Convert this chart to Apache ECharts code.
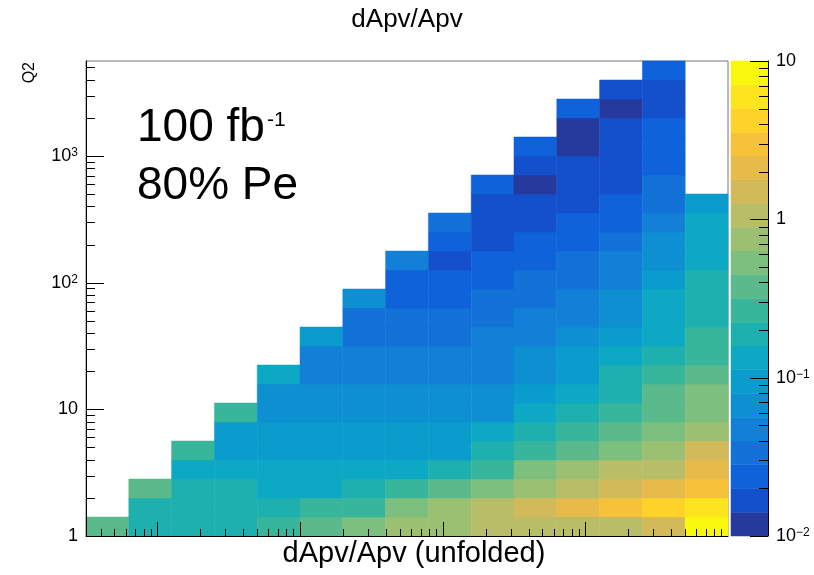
<!DOCTYPE html>
<html>
<head>
<meta charset="utf-8">
<title>dApv/Apv</title>
<script src="https://cdn.jsdelivr.net/npm/echarts@6.0.0/dist/echarts.min.js"></script>
<style>
  html, body { margin: 0; padding: 0; background: #fff; }
  #chart { width: 814px; height: 575px; }
</style>
</head>
<body>
<div id="chart"></div>
<script>
const FONT = '"Liberation Sans", Arial, Helvetica, sans-serif';

// bin edges (both axes log spaced)
const xEdges = [3.162e-5, 6.310e-5, 1.259e-4, 2.512e-4, 5.012e-4, 1.0e-3, 1.995e-3, 3.981e-3,
  7.943e-3, 1.585e-2, 3.162e-2, 6.310e-2, 0.1259, 0.2512, 0.5012, 1.0];
const q2Edges = [1, 1.413, 1.995, 2.818, 3.981, 5.623, 7.943, 11.22, 15.85, 22.39, 31.62, 44.67,
  63.10, 89.13, 125.9, 177.8, 251.2, 354.8, 501.2, 707.9, 1000, 1413, 1995, 2818, 3981, 5623];

// dApv/Apv in each x bin, from the lowest Q2 bin upward
const dApv = [
  [0.38],
  [0.19, 0.19, 0.38],
  [0.19, 0.19, 0.19, 0.13, 0.27],
  [0.19, 0.19, 0.19, 0.13, 0.094, 0.094, 0.27],
  [0.27, 0.19, 0.13, 0.13, 0.094, 0.094, 0.067, 0.067, 0.13],
  [0.38, 0.27, 0.13, 0.13, 0.094, 0.094, 0.067, 0.067, 0.047, 0.047, 0.094],
  [0.53, 0.27, 0.19, 0.13, 0.094, 0.094, 0.067, 0.067, 0.047, 0.047, 0.034, 0.034, 0.067],
  [0.75, 0.53, 0.27, 0.13, 0.094, 0.094, 0.067, 0.067, 0.047, 0.047, 0.034, 0.034, 0.024, 0.024, 0.047],
  [0.75, 0.75, 0.38, 0.19, 0.094, 0.094, 0.067, 0.067, 0.047, 0.047, 0.034, 0.034, 0.024, 0.024, 0.017, 0.024, 0.034],
  [1.06, 1.06, 0.53, 0.27, 0.19, 0.13, 0.067, 0.067, 0.047, 0.047, 0.047, 0.034, 0.034, 0.024, 0.024, 0.017, 0.017, 0.017, 0.024],
  [1.06, 1.5, 0.75, 0.53, 0.27, 0.19, 0.13, 0.094, 0.067, 0.067, 0.047, 0.047, 0.034, 0.034, 0.024, 0.024, 0.017, 0.017, 0.012, 0.017, 0.024],
  [1.06, 2.1, 1.06, 0.75, 0.38, 0.27, 0.19, 0.13, 0.094, 0.094, 0.067, 0.047, 0.047, 0.034, 0.034, 0.024, 0.024, 0.017, 0.017, 0.017, 0.012, 0.012, 0.024],
  [1.06, 3.0, 1.5, 1.06, 0.53, 0.38, 0.27, 0.19, 0.19, 0.13, 0.094, 0.067, 0.067, 0.047, 0.047, 0.034, 0.024, 0.024, 0.017, 0.017, 0.017, 0.017, 0.012, 0.017],
  [1.5, 4.2, 2.1, 1.06, 0.75, 0.53, 0.38, 0.38, 0.27, 0.19, 0.13, 0.13, 0.13, 0.094, 0.067, 0.067, 0.047, 0.034, 0.034, 0.024, 0.024, 0.024, 0.017, 0.017, 0.024],
  [8.4, 6.0, 3.0, 2.1, 1.5, 0.75, 0.53, 0.53, 0.38, 0.27, 0.27, 0.19, 0.19, 0.19, 0.13, 0.13, 0.13, 0.094]
];

// colour contours (20 levels, log spaced from 1e-2 to 10)
const levelEdges = [0.01, 0.01413, 0.01995, 0.02818, 0.03981, 0.05623, 0.07943, 0.1122, 0.1585, 0.2239,
  0.3162, 0.4467, 0.631, 0.8913, 1.259, 1.778, 2.512, 3.548, 5.012, 7.079, 10];
const levelColors = ['#263A9E', '#1450CC', '#0F62DA', '#1272D8', '#1280D6', '#0E8FD2', '#0A9CCC',
  '#0CA8C4', '#1EB0AE', '#38B69C', '#5ABA8C', '#7CBF7E', '#9CC072', '#B8BD68', '#D2BA5A',
  '#E6BB4A', '#F5C23A', '#FFD22A', '#FCE51E', '#FAF70E'];

// ticks
const xMajorTicks = [1e-4, 1e-3, 1e-2, 1e-1];
const xDecades = [1e-5, 1e-4, 1e-3, 1e-2, 1e-1];
const q2MajorTicks = [1, 10, 100, 1000];
const q2Decades = [1, 10, 100, 1000];
const zMajorTicks = [0.01, 0.1, 1, 10];
const zDecades = [0.01, 0.1, 1];
const minorSteps = [2, 3, 4, 5, 6, 7, 8, 9];

const xMin = xEdges[0], xMax = xEdges[xEdges.length - 1];
const yMin = q2Edges[0], yMax = q2Edges[q2Edges.length - 1];

const cells = [];
dApv.forEach((col, i) => {
  col.forEach((v, j) => {
    cells.push([xEdges[i], xEdges[i + 1], q2Edges[j], q2Edges[j + 1], v]);
  });
});

const bands = levelColors.map((c, k) =>
  [0, 1, levelEdges[k], levelEdges[k + 1], Math.sqrt(levelEdges[k] * levelEdges[k + 1])]);

function minorTicks(decades, lo, hi) {
  const out = [];
  decades.forEach(d => minorSteps.forEach(s => {
    const v = s * d;
    if (v > lo && v < hi) out.push(v);
  }));
  return out;
}

// [x, y, length, direction]  direction: 0 up, 1 right, 2 left
const frameTicks = [].concat(
  xMajorTicks.map(v => [v, yMin, 14, 0]),
  minorTicks(xDecades, xMin, xMax).map(v => [v, yMin, 7, 0]),
  q2MajorTicks.map(v => [xMin, v, 18, 1]),
  minorTicks(q2Decades, yMin, yMax).map(v => [xMin, v, 9, 1])
);
const paletteTicks = [].concat(
  zMajorTicks.map(v => [1, v, 18, 2]),
  minorTicks(zDecades, 0.01, 10).map(v => [1, v, 9, 2])
);

function renderBox(params, api) {
  const a = api.coord([api.value(0), api.value(2)]);
  const b = api.coord([api.value(1), api.value(3)]);
  const color = api.visual('color');
  return {
    type: 'rect',
    shape: { x: a[0], y: b[1], width: b[0] - a[0], height: a[1] - b[1] },
    style: { fill: color, stroke: color, lineWidth: 0.5 }
  };
}

function renderTick(params, api) {
  const p = api.coord([api.value(0), api.value(1)]);
  const len = api.value(2);
  const dir = api.value(3);
  let x1 = p[0], y1 = p[1];
  if (dir === 0) x1 = Math.round(x1) + 0.5; else y1 = Math.round(y1) + 0.5;
  let x2 = x1, y2 = y1;
  if (dir === 0) y2 -= len; else if (dir === 1) x2 += len; else x2 -= len;
  return {
    type: 'line',
    shape: { x1: x1, y1: y1, x2: x2, y2: y2 },
    style: { stroke: '#000', lineWidth: 1 }
  };
}

function powLabel(v) {
  const e = Math.log10(v);
  const n = Math.round(e);
  if (Math.abs(e - n) > 1e-6) return '';
  if (n === 0) return '1';
  if (n === 1) return '10';
  return '10{sup|' + (n < 0 ? '\u2212' + (-n) : n) + '}';
}

const labelStyle = {
  formatter: powLabel,
  margin: 8,
  fontSize: 18,
  color: '#000',
  fontFamily: FONT,
  showMaxLabel: true,
  rich: { sup: { fontSize: 12, verticalAlign: 'top', fontFamily: FONT, color: '#000' } }
};

const chart = echarts.init(document.getElementById('chart'));

chart.setOption({
  backgroundColor: '#fff',
  animation: false,
  textStyle: { fontFamily: FONT },
  title: {
    text: 'dApv/Apv', left: 'center', top: 7, padding: 0,
    textStyle: { fontSize: 26, fontWeight: 'normal', color: '#000', fontFamily: FONT }
  },
  grid: [
    { left: 86, top: 61, width: 642, height: 475, show: true, borderColor: '#777', borderWidth: 1 },
    { left: 731, top: 61, width: 37, height: 475 }
  ],
  xAxis: [
    {
      type: 'log', gridIndex: 0, min: xMin, max: xMax, z: 5,
      name: 'dApv/Apv (unfolded)', nameLocation: 'middle', nameGap: 3,
      nameTextStyle: { fontSize: 29, color: '#000', fontFamily: FONT, padding: [0, 0, 0, 14] },
      axisLine: { show: true, onZero: false, lineStyle: { color: '#000', width: 1 } },
      axisTick: { show: false }, axisLabel: { show: false }, splitLine: { show: false }
    },
    { type: 'value', gridIndex: 1, min: 0, max: 1, show: false }
  ],
  yAxis: [
    {
      type: 'log', gridIndex: 0, min: yMin, max: yMax, z: 5,
      axisLine: { show: true, onZero: false, lineStyle: { color: '#000', width: 1 } },
      axisTick: { show: false }, splitLine: { show: false },
      axisLabel: labelStyle
    },
    {
      type: 'log', gridIndex: 1, min: 0.01, max: 10, position: 'right', z: 5,
      axisLine: { show: true, onZero: false, lineStyle: { color: '#000', width: 1 } },
      axisTick: { show: false }, splitLine: { show: false },
      axisLabel: labelStyle
    }
  ],
  visualMap: {
    show: false,
    type: 'piecewise',
    dimension: 4,
    seriesIndex: [0, 1],
    pieces: levelColors.map((c, k) => ({ gte: levelEdges[k], lt: levelEdges[k + 1] + (k === levelColors.length - 1 ? 1 : 0), color: c }))
  },
  series: [
    {
      type: 'custom', name: 'dApv/Apv', xAxisIndex: 0, yAxisIndex: 0,
      renderItem: renderBox, data: cells, encode: { x: [0, 1], y: [2, 3] },
      clip: false, silent: true, z: 2
    },
    {
      type: 'custom', name: 'palette', xAxisIndex: 1, yAxisIndex: 1,
      renderItem: renderBox, data: bands, encode: { x: [0, 1], y: [2, 3] },
      clip: false, silent: true, z: 2
    },
    {
      type: 'custom', name: 'frameTicks', xAxisIndex: 0, yAxisIndex: 0,
      renderItem: renderTick, data: frameTicks, encode: { x: 0, y: 1 },
      clip: false, silent: true, z: 4
    },
    {
      type: 'custom', name: 'paletteTicks', xAxisIndex: 1, yAxisIndex: 1,
      renderItem: renderTick, data: paletteTicks, encode: { x: 0, y: 1 },
      clip: false, silent: true, z: 4
    }
  ],
  graphic: [
    { type: 'text', x: 137, y: 128, style: { text: '100 fb', fontSize: 46, fontFamily: FONT, fill: '#000', verticalAlign: 'middle' } },
    { type: 'text', x: 267, y: 120, style: { text: '-1', fontSize: 21, fontFamily: FONT, fill: '#000', verticalAlign: 'middle' } },
    { type: 'text', x: 137, y: 186, style: { text: '80% Pe', fontSize: 46, fontFamily: FONT, fill: '#000', verticalAlign: 'middle' } },
    { type: 'text', x: 30, y: 62, rotation: Math.PI / 2, style: { text: 'Q2', fontSize: 16, fontFamily: FONT, fill: '#000', align: 'right', verticalAlign: 'middle' } }
  ]
});

window.addEventListener('resize', () => chart.resize());
</script>
</body>
</html>
